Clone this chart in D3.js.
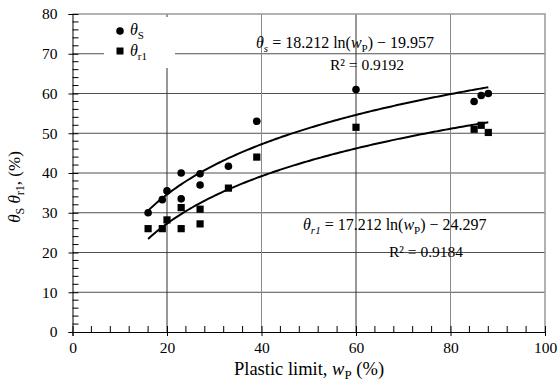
<!DOCTYPE html>
<meta charset="utf-8">
<style>
body { margin: 0; background: #fff; }
svg { display: block; }
</style>
<svg width="558" height="387" font-family="Liberation Serif" style="font-family:'Liberation Serif'"></svg>
<script src="https://d3js.org/d3.v7.min.js"></script>
<script>

// plastic limit (x) for each sample
var wpS  = [16, 19, 20, 23, 23, 27, 27, 33, 39, 60, 85, 86.5, 88];
var thetaS = [30, 33.3, 35.5, 40, 33.5, 39.8, 37, 41.7, 53, 61, 58, 59.5, 60];
var wpR  = [16, 19, 20, 23, 23, 27, 27, 33, 39, 60, 85, 86.5, 88];
var thetaR = [26, 26, 28.2, 31.3, 26, 30.9, 27.2, 36.2, 44, 51.5, 51, 52, 50.2];

// log trend lines  y = a ln(x) + b
var fitS = [18.212, -19.957];
var fitR = [17.212, -24.297];
var fitRange = [16, 88];

var xTicks = [0, 20, 40, 60, 80, 100];
var yTicks = [0, 10, 20, 30, 40, 50, 60, 70, 80];

var FONT = "Liberation Serif";
var svg = d3.select("svg");
var x = d3.scaleLinear().domain([0, 100]).range([72.5, 545]);
var y = d3.scaleLinear().domain([0, 80]).range([332, 14]);

// grid
svg.append("g").selectAll("line")
    .data(yTicks.filter(function(d) { return d > 0 && d < 80; }))
  .enter().append("line")
    .attr("x1", x(0)).attr("x2", x(100))
    .attr("y1", function(d) { return y(d); }).attr("y2", function(d) { return y(d); })
    .attr("stroke", "#505050").attr("stroke-width", 1);

svg.append("g").selectAll("line")
    .data(xTicks.filter(function(d) { return d > 0 && d < 100; }))
  .enter().append("line")
    .attr("x1", function(d) { return x(d); }).attr("x2", function(d) { return x(d); })
    .attr("y1", y(0)).attr("y2", y(80))
    .attr("stroke", function(d) { return d % 40 == 0 ? "#8a8a8a" : "#333"; })
    .attr("stroke-width", 1);

// top / right border
svg.append("path")
    .attr("d", "M" + x(0) + "," + y(80) + "H" + x(100) + "V" + y(0))
    .attr("fill", "none").attr("stroke", "#999").attr("stroke-width", 1.5);

// legend box covers grid
svg.append("rect")
    .attr("x", 104).attr("y", 17).attr("width", 71).attr("height", 51)
    .attr("fill", "#fff");

// axes
var xAxis = svg.append("g")
    .attr("transform", "translate(0," + y(0) + ")")
    .call(d3.axisBottom(x).tickValues(xTicks).tickSize(4).tickPadding(6))
    .attr("font-family", FONT).attr("font-size", 15.5);
xAxis.select(".domain").attr("stroke", "#000");
xAxis.selectAll(".tick line").attr("y1", -6).attr("y2", 4);
svg.append("g").selectAll("line")
    .data(d3.range(0, 101, 4).filter(function(d) { return d % 20 != 0; }))
  .enter().append("line")
    .attr("x1", function(d) { return x(d); }).attr("x2", function(d) { return x(d); })
    .attr("y1", y(0)).attr("y2", y(0) - 6)
    .attr("stroke", "#000");

var yAxis = svg.append("g")
    .attr("transform", "translate(" + x(0) + ",0)")
    .call(d3.axisLeft(y).tickValues(yTicks).tickSize(4).tickPadding(11))
    .attr("font-family", FONT).attr("font-size", 15.5);
yAxis.select(".domain").attr("stroke", "#000");
yAxis.selectAll(".tick line").attr("x1", -4).attr("x2", 6);
svg.append("g").selectAll("line")
    .data(d3.range(0, 81, 2).filter(function(d) { return d % 10 != 0; }))
  .enter().append("line")
    .attr("x1", x(0)).attr("x2", x(0) + 6)
    .attr("y1", function(d) { return y(d); }).attr("y2", function(d) { return y(d); })
    .attr("stroke", "#000");
svg.selectAll(".tick text").attr("fill", "#000");

// rich text helper
function rich(sel, parts, sub) {
  var shift = 0;
  sel.style("font-family", FONT);
  parts.forEach(function(p) {
    var t = sel.append("tspan").text(p.t);
    if (p.i) t.style("font-style", "italic");
    var want = p.s ? 4 : 0;
    if (want != shift) { t.attr("dy", want - shift); shift = want; }
    if (p.s) t.style("font-size", (sub || 11) + "px");
  });
}

// trend lines
var line = d3.line()
    .x(function(d) { return x(d[0]); })
    .y(function(d) { return y(d[1]); });
function fitPts(f) {
  return d3.range(fitRange[0], fitRange[1] + 0.01, 0.5).map(function(v) {
    return [v, f[0] * Math.log(v) + f[1]];
  });
}
[fitS, fitR].forEach(function(f) {
  svg.append("path").datum(fitPts(f))
      .attr("d", line).attr("fill", "none")
      .attr("stroke", "#000").attr("stroke-width", 2);
});

// points
svg.append("g").selectAll("circle")
    .data(d3.zip(wpS, thetaS))
  .enter().append("circle")
    .attr("cx", function(d) { return x(d[0]); })
    .attr("cy", function(d) { return y(d[1]); })
    .attr("r", 3.8).attr("fill", "#000");

svg.append("g").selectAll("rect")
    .data(d3.zip(wpR, thetaR))
  .enter().append("rect")
    .attr("x", function(d) { return x(d[0]) - 3.6; })
    .attr("y", function(d) { return y(d[1]) - 3.6; })
    .attr("width", 7.2).attr("height", 7.2).attr("fill", "#000");

// legend
svg.append("circle").attr("cx", 120).attr("cy", 31).attr("r", 3.8).attr("fill", "#000");
svg.append("rect").attr("x", 116.5).attr("y", 47.5).attr("width", 7).attr("height", 7).attr("fill", "#000");
rich(svg.append("text").attr("x", 130).attr("y", 35).style("font-size", "16px"),
  [{t: "θ", i: 1}, {t: "S", s: 1}]);
rich(svg.append("text").attr("x", 130).attr("y", 56).style("font-size", "16px"),
  [{t: "θ", i: 1}, {t: "r1", s: 1}]);

// equations
rich(svg.append("text").attr("x", 256).attr("y", 48).style("font-size", "16px"),
  [{t: "θ", i: 1}, {t: "s", i: 1, s: 1}, {t: " = 18.212 ln(" }, {t: "w", i: 1}, {t: "P", s: 1}, {t: ") − 19.957"}], 11);
rich(svg.append("text").attr("x", 330).attr("y", 70).style("font-size", "15.5px"),
  [{t: "R² = 0.9192"}]);

rich(svg.append("text").attr("x", 303).attr("y", 230).style("font-size", "16px"),
  [{t: "θ", i: 1}, {t: "r1", i: 1, s: 1}, {t: " = 17.212 ln(" }, {t: "w", i: 1}, {t: "P", s: 1}, {t: ") − 24.297"}], 11);
rich(svg.append("text").attr("x", 389).attr("y", 257).style("font-size", "15.5px"),
  [{t: "R² = 0.9184"}]);

// axis titles
rich(svg.append("text").attr("x", 309).attr("y", 375).attr("text-anchor", "middle").style("font-size", "18.5px"),
  [{t: "Plastic limit, "}, {t: "w", i: 1}, {t: "P", s: 1}, {t: " (%)"}], 13);

rich(svg.append("text").attr("transform", "translate(20,187) rotate(-90)")
    .attr("text-anchor", "middle").style("font-size", "17px"),
  [{t: "θ", i: 1}, {t: "S", s: 1}, {t: " "}, {t: "θ", i: 1}, {t: "r1", s: 1}, {t: ", (%)"}], 12);

</script>
